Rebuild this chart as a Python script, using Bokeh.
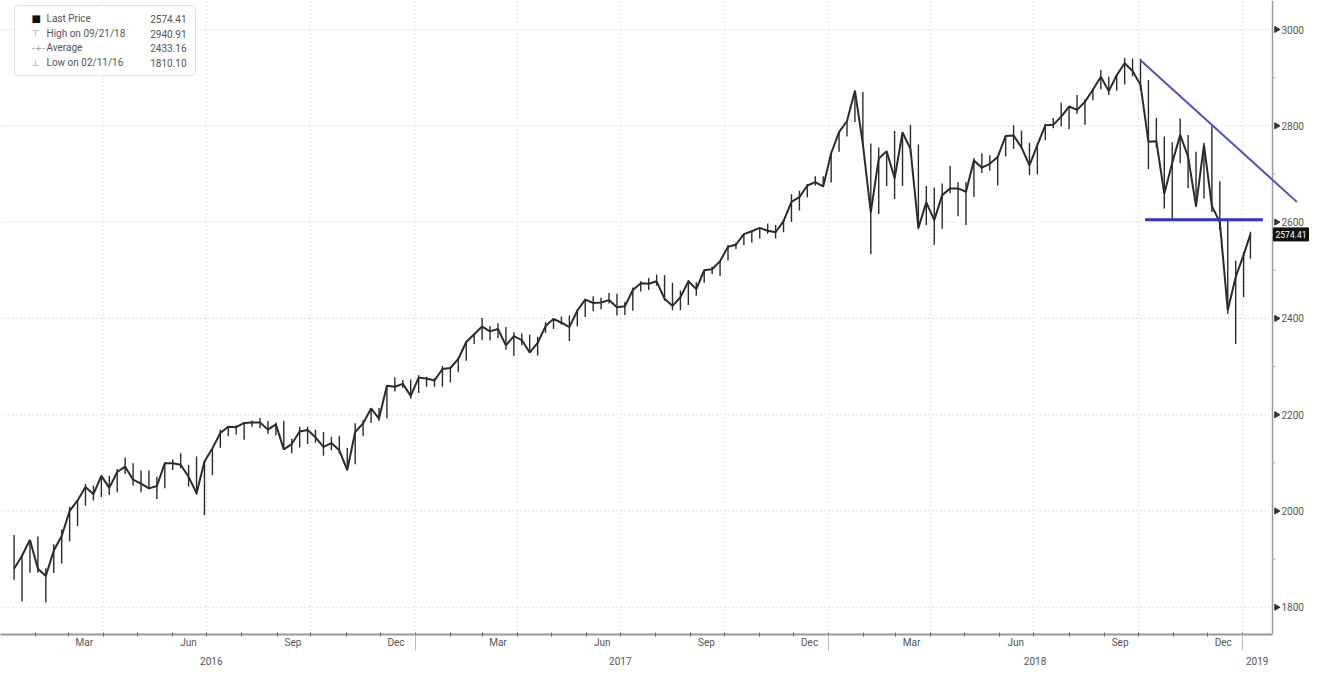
import math
import pandas as pd
from bokeh.plotting import figure
from bokeh.models import (Range1d, LinearAxis, FixedTicker, CustomJSTickFormatter, Label,
                          BoxAnnotation, ColumnDataSource, Grid)
from bokeh.core.properties import value
from bokeh.embed import file_html
from bokeh.resources import INLINE

# ---------------- data (weekly bars, S&P 500) ----------------
first_week_center = "2016-01-13"
last_partial_week = "2019-01-08"

wk_high = [1950, 1908, 1940, 1947, 1881, 1931, 1962, 2009, 2022, 2056, 2053, 2075, 2073, 2087, 2111, 2099,
           2084, 2084, 2071, 2100, 2107, 2120, 2096, 2113, 2104, 2131, 2169, 2176, 2178, 2184, 2188, 2193,
           2187, 2184, 2187, 2150, 2175, 2175, 2169, 2164, 2154, 2156, 2131, 2182, 2189, 2214, 2214, 2260,
           2278, 2272, 2273,
           2282, 2279, 2276, 2301, 2298, 2319, 2352, 2368, 2401, 2384, 2390, 2382, 2371, 2369, 2366, 2362,
           2392, 2400, 2404, 2406, 2418, 2441, 2446, 2443, 2453, 2451, 2434, 2464, 2477, 2484, 2491, 2490,
           2474, 2458, 2480, 2475, 2500, 2508, 2519, 2552, 2557, 2576, 2582, 2588, 2597, 2594, 2605, 2658,
           2665, 2679, 2695, 2695,
           2743, 2787, 2811, 2873, 2870, 2763, 2755, 2747, 2789, 2787, 2802, 2761, 2675, 2672, 2680, 2717,
           2683, 2683, 2733, 2743, 2739, 2736, 2779, 2801, 2790, 2765, 2764, 2804, 2816, 2848, 2841, 2864,
           2855, 2877, 2916, 2902, 2906, 2941, 2940, 2939, 2895, 2816, 2778, 2766, 2815, 2781, 2746, 2765,
           2800, 2685, 2607, 2520,
           2538, 2580]
wk_low = [1857, 1812, 1872, 1872, 1810, 1871, 1891, 1937, 1969, 2011, 2022, 2029, 2033, 2039, 2077, 2053,
          2039, 2045, 2025, 2047, 2085, 2089, 2051, 2033, 1991, 2074, 2131, 2155, 2159, 2148, 2175, 2172,
          2160, 2157, 2127, 2120, 2132, 2139, 2142, 2115, 2126, 2119, 2084, 2097, 2156, 2183, 2187, 2192,
          2248, 2256, 2233,
          2245, 2258, 2258, 2258, 2267, 2289, 2312, 2347, 2355, 2354, 2359, 2335, 2322, 2344, 2328, 2323,
          2370, 2378, 2387, 2353, 2383, 2403, 2415, 2419, 2431, 2406, 2407, 2416, 2456, 2459, 2468, 2437,
          2417, 2417, 2428, 2447, 2474, 2492, 2488, 2520, 2544, 2552, 2557, 2566, 2576, 2566, 2579, 2600,
          2624, 2651, 2676, 2673,
          2682, 2746, 2778, 2808, 2759, 2533, 2617, 2675, 2648, 2675, 2741, 2585, 2594, 2553, 2586, 2660,
          2612, 2594, 2652, 2702, 2707, 2676, 2736, 2752, 2752, 2698, 2699, 2770, 2795, 2799, 2793, 2825,
          2802, 2853, 2876, 2864, 2873, 2886, 2903, 2874, 2710, 2755, 2628, 2603, 2722, 2671, 2631, 2649,
          2621, 2583, 2409, 2347,
          2444, 2524]
wk_close = [1880, 1907, 1940, 1880, 1865, 1918, 1948, 2000, 2022, 2050, 2035, 2073, 2048, 2081, 2092, 2065,
            2057, 2047, 2052, 2099, 2099, 2096, 2071, 2037, 2103, 2130, 2162, 2175, 2174, 2183, 2184, 2184,
            2169, 2180, 2128, 2139, 2165, 2168, 2153, 2133, 2141, 2126, 2085, 2164, 2182, 2213, 2192, 2260,
            2258, 2264, 2239,
            2277, 2275, 2271, 2295, 2297, 2316, 2351, 2367, 2383, 2373, 2378, 2344, 2363, 2355, 2329, 2349,
            2384, 2399, 2391, 2382, 2416, 2439, 2432, 2433, 2438, 2423, 2425, 2459, 2473, 2472, 2477, 2441,
            2426, 2444, 2477, 2461, 2500, 2502, 2519, 2549, 2553, 2575, 2581, 2588, 2582, 2579, 2602, 2642,
            2652, 2676, 2683, 2674,
            2743, 2787, 2810, 2873, 2762, 2620, 2732, 2747, 2691, 2786, 2752, 2588, 2641, 2604, 2656, 2670,
            2670, 2663, 2728, 2713, 2721, 2735, 2779, 2780, 2755, 2718, 2760, 2801, 2802, 2819, 2840, 2833,
            2850, 2875, 2902, 2872, 2905, 2930, 2914, 2885, 2767, 2768, 2659, 2723, 2781, 2736, 2633, 2760,
            2633, 2600, 2417, 2486,
            2532, 2574.41]

trend_dates = ["2018-10-03", "2019-02-18"]
trend_prices = [2936, 2642]
support_dates = ["2018-10-07", "2019-01-19"]
support_price = 2605

y_ticks = [1800, 2000, 2200, 2400, 2600, 2800, 3000]
y_minor_ticks = [1900, 2100, 2300, 2500, 2700, 2900]
legend_names = ["Last Price", "High on 09/21/18", "Average", "Low on 02/11/16"]
legend_values = ["2574.41", "2940.91", "2433.16", "1810.10"]
legend_icons = ["\u25A0", "\u22A4", "-+-", "\u22A5"]

# ---------------- helpers ----------------
DAY = 86400000.0
T0 = pd.Timestamp("2016-01-01").value / 1e6
PXD = 1.1332          # px per calendar day
PPU = 0.4815          # px per index point


def ms(d):
    return pd.Timestamp(d).value / 1e6


def sx(px):           # reference pixel x -> ms
    return T0 + px / PXD * DAY


def sy(py):           # reference pixel y -> price
    return 3000 + (29 - py) / PPU


dates = list(pd.date_range(first_week_center, periods=len(wk_high) - 1, freq="7D")) + [pd.Timestamp(last_partial_week)]
xs = [d.value / 1e6 for d in dates]
src = ColumnDataSource(dict(x=xs, high=wk_high, low=wk_low, close=wk_close))

W, H = 1309, 668
AXIS_X = 1272          # where the price axis sits
BOT = 34
frame_h = H - BOT
p = figure(width=W, height=H, output_backend="svg", toolbar_location=None,
           x_axis_type=None, y_axis_type=None,
           x_range=Range1d(sx(0), sx(W)),
           y_range=Range1d(sy(frame_h), sy(0)),
           min_border_left=0, min_border_top=0, min_border_right=0, min_border_bottom=BOT)
p.outline_line_color = None
p.background_fill_color = "white"
p.border_fill_color = "white"

# x axis: months
month_label_ms = [ms(f"{y}-{m:02d}-15") for y in (2016, 2017, 2018) for m in (3, 6, 9, 12)]
month_start_ms = [d.value / 1e6 for d in pd.date_range("2016-02-01", "2019-01-01", freq="MS")]
quarter_ms = [d.value / 1e6 for d in pd.date_range("2016-04-01", "2019-01-01", freq="QS")]
year_label_ms = [ms("2016-07-05"), ms("2017-07-01"), ms("2018-07-02"), ms("2019-01-14")]
year_start_ms = [ms("2017-01-01"), ms("2018-01-01"), ms("2019-01-01")]

mfmt = CustomJSTickFormatter(code="""
const m = ["Jan","Feb","Mar","Apr","May","Jun","Jul","Aug","Sep","Oct","Nov","Dec"];
return m[new Date(tick).getUTCMonth()];""")
yfmt = CustomJSTickFormatter(code="return String(new Date(tick).getUTCFullYear());")

ax1 = LinearAxis(ticker=FixedTicker(ticks=month_label_ms, minor_ticks=month_start_ms), formatter=mfmt,
                 bounds=(sx(0), sx(AXIS_X)))
ax1.axis_line_color = "#9a9a9a"
ax1.axis_line_width = 2
ax1.major_tick_in = 0
ax1.major_tick_out = 0
ax1.minor_tick_in = 2
ax1.minor_tick_out = 2
ax1.minor_tick_line_color = "#666666"
ax1.major_label_standoff = 0
ax1.major_label_text_font = "Roboto"
ax1.major_label_text_font_size = "10px"
ax1.major_label_text_color = "#555555"

ax2 = LinearAxis(ticker=FixedTicker(ticks=year_label_ms, minor_ticks=year_start_ms), formatter=yfmt)
ax2.axis_line_color = None
ax2.major_tick_line_color = None
ax2.minor_tick_in = 16
ax2.minor_tick_out = 0
ax2.minor_tick_line_color = "#bbbbbb"
ax2.major_label_standoff = 0
ax2.major_label_text_font = "Roboto"
ax2.major_label_text_font_size = "10px"
ax2.major_label_text_color = "#555555"

p.add_layout(ax1, "below")
p.add_layout(ax2, "below")
p.add_layout(Grid(dimension=0, ticker=FixedTicker(ticks=quarter_ms),
                  grid_line_color="#c8c8c8", grid_line_dash="1 3"))

# price axis on the right (drawn inside the frame so the last-price tag can sit beside it)
xa = sx(AXIS_X)
p.segment(x0=[sx(0)] * len(y_ticks), y0=y_ticks, x1=[xa] * len(y_ticks), y1=y_ticks,
          line_color="#c8c8c8", line_dash="1 3", line_width=1)
p.line(x=[xa, xa], y=[sy(frame_h), sy(0)], line_color="#9a9a9a", line_width=1.5)
p.segment(x0=[xa] * len(y_minor_ticks), y0=y_minor_ticks, x1=[sx(AXIS_X + 3)] * len(y_minor_ticks),
          y1=y_minor_ticks, line_color="#aaaaaa", line_width=1)
p.scatter(x=[sx(AXIS_X + 4)] * len(y_ticks), y=y_ticks, marker="triangle", angle=-math.pi / 2,
          size=6, fill_color="#333333", line_color="#333333")
p.text(x=[sx(AXIS_X + 9)] * len(y_ticks), y=y_ticks, text=[str(t) for t in y_ticks],
       text_font=value("Roboto"), text_font_size="10px", text_color="#555555",
       text_baseline="middle", text_align="left")

# price bars
p.segment(x0="x", y0="low", x1="x", y1="high", source=src, line_color="#2b2b2b", line_width=1.4)
p.line(x="x", y="close", source=src, line_color="#2b2b2b", line_width=2.0)

# drawn lines
p.line(x=[ms(d) for d in trend_dates], y=trend_prices, line_color="#5050c8", line_width=2)
p.line(x=[ms(d) for d in support_dates], y=[support_price] * 2, line_color="#3434c0", line_width=3)

# last price tag
p.rect(x=[sx(AXIS_X + 18.5)], y=[wk_close[-1]], width=35, height=13, width_units="screen",
       height_units="screen", fill_color="#111111", line_color="#111111")
p.text(x=[sx(AXIS_X + 18.5)], y=[wk_close[-1]], text=[f"{wk_close[-1]:.2f}"], text_color="white",
       text_font=value("Roboto"), text_font_size="8.5px", text_baseline="middle", text_align="center")

# legend box
p.add_layout(BoxAnnotation(left=sx(14), right=sx(195), top=sy(5), bottom=sy(75),
                           fill_color="white", fill_alpha=1, line_color="#a0a0a0", line_width=1,
                           border_radius=4))
p.segment(x0=[sx(24)], y0=[sy(12)], x1=[sx(24)], y1=[sy(68)], line_color="#bbbbbb", line_dash="1 2")
rows_py = [18, 33, 47, 62]
for i, (nm, val, ic) in enumerate(zip(legend_names, legend_values, legend_icons)):
    yy = sy(rows_py[i])
    p.add_layout(Label(x=sx(31), y=yy, text=ic, text_font="DejaVu Sans",
                       text_font_size="10px" if i == 0 else "9px",
                       text_color="#111111" if i == 0 else "#999999", text_baseline="middle"))
    p.add_layout(Label(x=sx(46), y=yy, text=nm, text_font="Roboto", text_font_size="10px",
                       text_color="#555555", text_baseline="middle"))
    p.add_layout(Label(x=sx(186), y=yy, text=val, text_font="Roboto", text_font_size="10px",
                       text_color="#555555", text_baseline="middle", text_align="right"))

open("out.html", "w").write(file_html(p, INLINE))
